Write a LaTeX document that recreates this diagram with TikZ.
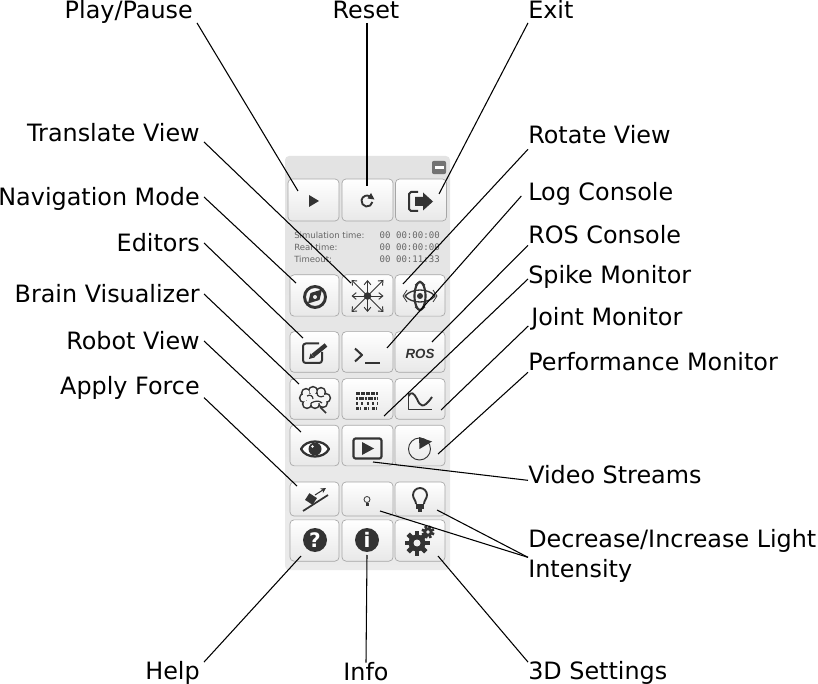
\documentclass[tikz,border=0pt]{standalone}
\usepackage{fontspec}
\usetikzlibrary{arrows.meta}
\setmainfont{DejaVu Sans}
\setmonofont{DejaVu Sans Mono}
\newfontfamily\rosfont{Liberation Sans}
\definecolor{icon}{HTML}{333333}
\tikzset{
  lblleft/.style={anchor=east,inner xsep=3pt,inner ysep=0pt,text height=13pt,text depth=0pt,font=\fontsize{17.9}{22.5}\selectfont},
  lblright/.style={anchor=west,inner xsep=0pt,inner ysep=0pt,text height=13pt,text depth=0pt,font=\fontsize{17.9}{22.5}\selectfont},
  btn/.style={draw=black!35,rounded corners=3pt,line width=0.5pt,top color=white,bottom color=black!9,inner sep=0pt},
  leader/.style={line width=0.8pt},
  timetxt/.style={anchor=west,inner sep=0pt,text=black!60,font=\fontsize{6.4}{6.4}\selectfont},
  timeval/.style={anchor=east,inner sep=0pt,text=black!60,font=\ttfamily\fontsize{6.8}{6.8}\selectfont},
  ico/.style={draw=icon,line width=1.3pt,line join=round},
  spikerow/.style={icon,line width=2pt}
}
\begin{document}
\begin{tikzpicture}[x=0.75pt,y=-0.75pt]
\useasboundingbox (0,0) rectangle (818,684);
% panel
\node[rounded corners=3pt,top color=black!11,bottom color=black!8,minimum width=123.75pt,minimum height=310.5pt,inner sep=0pt] (panel) at (367.5,363) {};
\node[fill=black!55,rounded corners=1.5pt,minimum width=10.5pt,minimum height=10pt,inner sep=0pt] (minimize) at (439,167.5) {};
\fill[white] (434.5,166.5) rectangle (443.5,168.8);
% buttons
\node[btn,minimum width=38.25pt,minimum height=31.5pt] (play) at (313.5,200) {};
\node[btn,minimum width=38.25pt,minimum height=31.5pt] (reset) at (367.5,200) {};
\node[btn,minimum width=38.25pt,minimum height=31.5pt] (exit) at (421,200) {};
\node[btn,minimum width=36.75pt,minimum height=31pt] (nav) at (314.5,295.5) {};
\node[btn,minimum width=38.25pt,minimum height=31pt] (translate) at (367.5,295.5) {};
\node[btn,minimum width=37.5pt,minimum height=31pt] (rotate) at (420,295.5) {};
\node[btn,minimum width=36.75pt,minimum height=30.5pt] (editors) at (314.5,352) {};
\node[btn,minimum width=38.25pt,minimum height=30.5pt] (log) at (367.5,352) {};
\node[btn,minimum width=37.5pt,minimum height=30.5pt] (ros) at (420,352) {};
\node[btn,minimum width=36.75pt,minimum height=30.5pt] (brain) at (314.5,399) {};
\node[btn,minimum width=38.25pt,minimum height=30.5pt] (spike) at (367.5,399) {};
\node[btn,minimum width=37.5pt,minimum height=30.5pt] (joint) at (420,399) {};
\node[btn,minimum width=36.75pt,minimum height=30.5pt] (robot) at (314.5,445.5) {};
\node[btn,minimum width=38.25pt,minimum height=30.5pt] (video) at (367.5,445.5) {};
\node[btn,minimum width=37.5pt,minimum height=30.5pt] (perf) at (420,445.5) {};
\node[btn,minimum width=36.75pt,minimum height=25.5pt] (force) at (314.5,499) {};
\node[btn,minimum width=38.25pt,minimum height=25.5pt] (dimmer) at (367.5,499) {};
\node[btn,minimum width=37.5pt,minimum height=25.5pt] (brighter) at (420,499) {};
\node[btn,minimum width=36.75pt,minimum height=31pt] (help) at (314.5,540.5) {};
\node[btn,minimum width=38.25pt,minimum height=31pt] (info) at (367.5,540.5) {};
\node[btn,minimum width=37.5pt,minimum height=31pt] (settings) at (420,540.5) {};
% timers
\node[timetxt] (tsim) at (294,235) {Simulation time:};
\node[timetxt] (treal) at (294,247) {Real time:};
\node[timetxt] (tout) at (294,259) {Timeout:};
\node[timeval] (vsim) at (440,235) {00 00:00:00};
\node[timeval] (vreal) at (440,247) {00 00:00:00};
\node[timeval] (vout) at (440,259) {00 00:11:33};
% icons
\fill[icon] (309,195) -- (319,201) -- (309,207) -- cycle;
\draw[ico,line width=1.4pt] (372.4,202) arc (10:300:5.5);
\fill[icon] (371,193) -- (374.5,199.5) -- (367.5,198.5) -- cycle;
\draw[ico,line width=1.5pt] (418,192) -- (411,192) -- (409,194) -- (409,209) -- (411,211) -- (418,211);
\fill[icon] (415,197) -- (423,197) -- (423,192.5) -- (433,201.5) -- (423,210.5) -- (423,206) -- (415,206) -- cycle;
% nav
\draw[ico,line width=2.2pt] (315,297) circle (10.5);
\fill[icon] (322,289.5) -- (319.5,300) -- (308,303.5) -- (310.5,293) -- cycle;
\fill[black!8] (315,297) circle (2);
% translate
\fill[icon] (367.5,296) circle (3.8);
\foreach \dx/\dy in {1/0,-1/0,0/1,0/-1,1/1,-1/1,1/-1,-1/-1}{
  \draw[icon,line width=0.7pt,-{Straight Barb[length=3pt,width=5pt]}] (367.5,296) -- ++(16*\dx,16*\dy);
}
% rotate
\draw[ico,line width=1pt] (405,296) .. controls (412,288) and (428,288) .. (435,296) .. controls (428,304) and (412,304) .. (405,296) -- cycle;
\draw[ico,line width=1.6pt] (420,296) ellipse (5.5 and 14);
\fill[icon] (420,296) circle (3);
\draw[icon,line width=0.6pt] (415,285) -- (420,281) -- (425,285);
\draw[icon,line width=0.6pt] (415,307) -- (420,311) -- (425,307);
\draw[icon,line width=0.6pt] (407,290) -- (403,296) -- (407,302);
\draw[icon,line width=0.6pt] (433,290) -- (437,296) -- (433,302);
% editors
\draw[ico,line width=1.5pt,rounded corners=2pt] (319,343.5) -- (303,343.5) -- (303,363) -- (322,363) -- (322,352);
\draw[icon,line width=3.2pt] (313,355.5) -- (326,345);
\fill[icon] (309,359) -- (310.5,353.5) -- (314.5,357.5) -- cycle;
% ros
\node[inner sep=0pt,text=icon,font=\rosfont\bfseries\itshape\fontsize{10}{10}\selectfont] (roslbl) at (420,354) {ROS};
\draw[ico,line width=1.5pt] (355,348.5) -- (362,355) -- (355,361.5);
\draw[ico,line width=1.5pt] (365,363) -- (380,363);
% brain
\foreach \bx/\by in {306/393,313/391,321/392,326/398,323/403,315/404,307/404,304/398}{
  \draw[ico,line width=1.4pt] (\bx,\by) circle (4.2);
}
\foreach \bx/\by in {306/393,313/391,321/392,326/398,323/403,315/404,307/404,304/398}{
  \fill[white!96!black] (\bx,\by) circle (3.5);
}
\fill[white!96!black] (307,394) rectangle (324,403);
\draw[ico,line width=1.3pt] (320,407) -- (326,413);
\draw[icon,line width=0.9pt] (307,396) .. controls (310,394) and (313,396) .. (313,399);
\draw[icon,line width=0.9pt] (317,393) .. controls (317,396) and (320,398) .. (324,396);
\draw[icon,line width=0.9pt] (311,403) .. controls (315,401) and (319,400) .. (322,403);
% spike
\draw[spikerow,dash pattern=on 3pt off 0.8pt] (356,393.3) -- (378,393.3);
\draw[spikerow,dash pattern=on 1.5pt off 0.6pt on 4pt off 0.6pt] (356,398.3) -- (378,398.3);
\draw[spikerow,dash pattern=on 1.5pt off 2.5pt] (356,403.3) -- (378,403.3);
\draw[spikerow,dash pattern=on 2pt off 1pt on 1pt off 2pt] (356,408.3) -- (378,408.3);
% joint
\draw[ico,line width=1.4pt] (408.5,392) -- (408.5,409.5) -- (432,409.5);
\draw[ico,line width=1.4pt] (408.5,396) .. controls (411,391) and (414,393) .. (417,399) .. controls (420,406) and (423,410) .. (432,397);
% robot
\draw[ico,line width=1.7pt,fill=white] (301,449) .. controls (306,439) and (324,439) .. (329,449) .. controls (324,459) and (306,459) .. (301,449) -- cycle;
\fill[icon] (315,449) circle (6.5);
\fill[white] (312.5,446.5) circle (1.4);
% video
\draw[ico,line width=1.6pt,rounded corners=1.5pt] (353.5,438.5) rectangle (381.5,458.5);
\fill[icon] (362,442) -- (374,448.5) -- (362,455) -- cycle;
% perf
\draw[icon,line width=0.7pt] (419.5,449) circle (11);
\fill[icon] (419.5,449) -- (419,437) -- (432,441.5) -- cycle;
% force
\draw[icon,line width=1.3pt] (303,511) -- (328,495);
\fill[icon,rotate around={-33:(311,499)}] (306.5,495) rectangle (315.5,503);
\draw[icon,line width=0.8pt,-{Stealth[length=4pt,width=4pt]}] (315,495) -- (326,488);
% bulbs
\draw[icon,line width=0.6pt] (367,499.5) circle (3);
\fill[icon] (365.5,503) rectangle (368.5,506);
\draw[ico,line width=1.4pt] (416,504) .. controls (416,500) and (413,499) .. (413,495) arc (180:360:7) .. controls (427,499) and (424,500) .. (424,504);
\fill[icon] (416,503.5) rectangle (424,509);
\fill[icon] (418,509) rectangle (422,511.5);
% help and info
\node[circle,fill=icon,minimum size=18pt,inner sep=0pt,text=white,font=\bfseries\fontsize{15}{15}\selectfont] (helpmark) at (315,540) {?};
\node[circle,fill=icon,minimum size=18pt,inner sep=0pt,text=white,font=\bfseries\fontsize{15}{15}\selectfont] (infomark) at (367,540) {i};
% gears
\foreach \ang in {0,45,...,315}{
  \draw[icon,line width=3.5pt] (417,543) -- ++(\ang:12.5);
  \draw[icon,line width=2pt] (428,532) -- ++(\ang+20:6.5);
}
\fill[icon] (417,543) circle (8.5);
\fill[black!6] (417,543) circle (3.5);
\fill[icon] (428,532) circle (4.5);
\fill[black!6] (428,532) circle (1.8);
% labels
\node[lblleft] (lplay) at (197,10) {Play/Pause};
\node[lblright,anchor=center] (lreset) at (366,10) {Reset};
\node[lblright] (lexit) at (528,10) {Exit};
\node[lblleft] (ltrans) at (204,133) {Translate View};
\node[lblleft] (lnav) at (204,197) {Navigation Mode};
\node[lblleft] (ledit) at (204,243) {Editors};
\node[lblleft] (lbrain) at (204,294) {Brain Visualizer};
\node[lblleft] (lrobot) at (204,341) {Robot View};
\node[lblleft] (lforce) at (204,386) {Apply Force};
\node[lblright] (lrot) at (528,135) {Rotate View};
\node[lblright] (llog) at (528,192) {Log Console};
\node[lblright] (lros) at (528,235) {ROS Console};
\node[lblright] (lspike) at (528,275) {Spike Monitor};
\node[lblright] (ljoint) at (531,317) {Joint Monitor};
\node[lblright] (lperf) at (528,362) {Performance Monitor};
\node[lblright] (lvideo) at (528,475) {Video Streams};
\node[lblright,align=left,text height=,text depth=] (llight) at (528,556) {Decrease/Increase Light\\Intensity};
\node[lblleft] (lhelp) at (204,671) {Help};
\node[lblright,anchor=center] (linfo) at (366,671.5) {Info};
\node[lblright] (lsettings) at (528,671) {3D Settings};
% ends of the leaders
\coordinate (cplay) at (298,191);
\coordinate (creset) at (367,186);
\coordinate (cexit) at (439,194);
\coordinate (ctrans) at (351,283);
\coordinate (cnav) at (296,283);
\coordinate (cedit) at (303,338);
\coordinate (cbrain) at (299,384);
\coordinate (crobot) at (301,432);
\coordinate (cforce) at (297,486);
\coordinate (crot) at (403,284);
\coordinate (clog) at (387,348);
\coordinate (cros) at (432,342);
\coordinate (cspike) at (384,416);
\coordinate (cjoint) at (441,410);
\coordinate (cperf) at (438,454);
\coordinate (cvideo) at (373,462);
\coordinate (cbright) at (437,510);
\coordinate (cdim) at (380,511);
\coordinate (chelp) at (301,556);
\coordinate (cinfo) at (367,555);
\coordinate (csettings) at (438,556);
\path[leader]
    ([yshift=-3pt]lplay.south east) edge (cplay)
    ([xshift=0.75pt,yshift=-3pt]lreset.south) edge (creset)
    ([yshift=-3pt]lexit.south west) edge (cexit)
    (ltrans.south east) edge (ctrans)
    (lnav.east) edge (cnav)
    (ledit.east) edge (cedit)
    (lbrain.east) edge (cbrain)
    (lrobot.east) edge (crobot)
    ([yshift=-2pt]lforce.south east) edge (cforce)
    ([yshift=-4pt]lrot.south west) edge (crot)
    ([xshift=-5pt,yshift=-3pt]llog.west) edge (clog)
    ([yshift=-1pt]lros.south west) edge (cros)
    ([yshift=-3pt]lspike.west) edge (cspike)
    ([xshift=-2pt]ljoint.south west) edge (cjoint)
    ([yshift=-1pt]lperf.south west) edge (cperf)
    ([yshift=-4pt]lvideo.west) edge (cvideo)
    ([yshift=-1pt]llight.west) edge (cbright)
    ([yshift=-1pt]llight.west) edge (cdim)
    (lhelp.north east) edge (chelp)
    (linfo.north) edge (cinfo)
    (lsettings.north west) edge (csettings);
\end{tikzpicture}
\end{document}
